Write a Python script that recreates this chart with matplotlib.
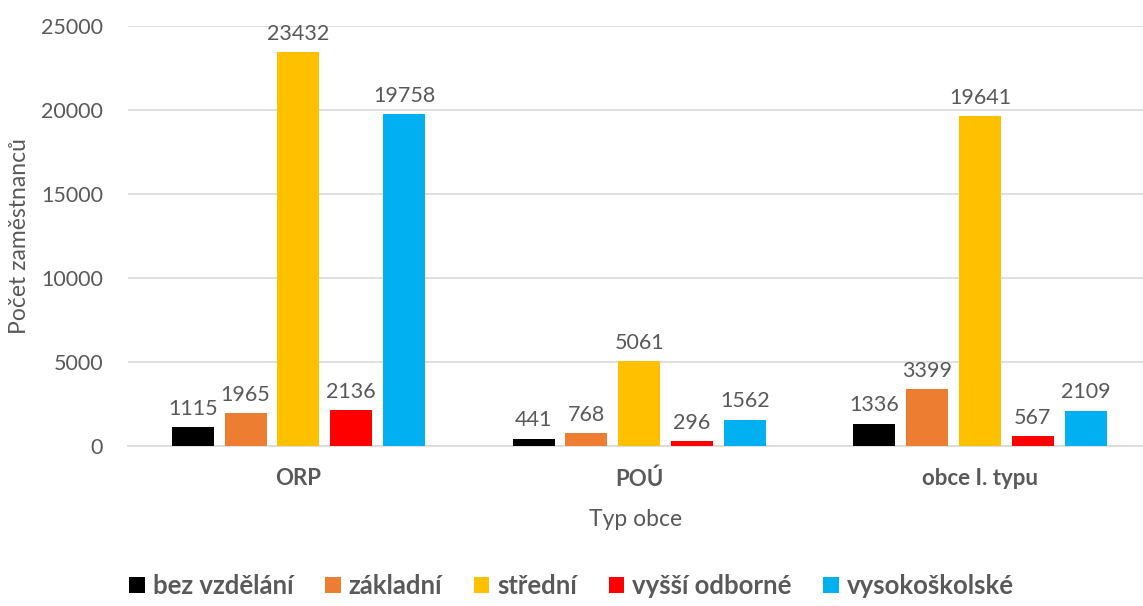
"""Počet zaměstnanců podle typu obce a vzdělání."""

import matplotlib

matplotlib.use("Agg")
import matplotlib.pyplot as plt
import numpy as np

categories = ["ORP", "POÚ", "obce I. typu"]
series_names = ["bez vzdělání", "základní", "střední", "vyšší odborné", "vysokoškolské"]
bez_vzdelani = [1115, 441, 1336]
zakladni = [1965, 768, 3399]
stredni = [23432, 5061, 19641]
vyssi_odborne = [2136, 296, 567]
vysokoskolske = [19758, 1562, 2109]
colors = ["#000000", "#ED7D31", "#FFC000", "#FF0000", "#00B0F0"]
y_ticks = [0, 5000, 10000, 15000, 20000, 25000]

plt.rcParams["font.family"] = ["Lato", "DejaVu Sans"]
text_color = "#595959"

fig = plt.figure(figsize=(11.43, 6.06), dpi=100)
ax = fig.add_axes([0.112, 0.264, 0.888, 0.693])

values = [bez_vzdelani, zakladni, stredni, vyssi_odborne, vysokoskolske]
x = np.arange(len(categories))
pitch = 0.155
width = 0.123
for i, (name, vals, color) in enumerate(zip(series_names, values, colors)):
    pos = x + (i - 2) * pitch
    bars = ax.bar(pos, vals, width=width, color=color, label=name, zorder=3)
    ax.bar_label(bars, labels=[str(v) for v in vals], padding=6,
                 fontsize=15.5, color=text_color)

ax.set_xlim(-0.5, 2.478)
ax.set_ylim(0, 25000)
ax.set_yticks(y_ticks)
ax.set_yticklabels([str(t) for t in y_ticks], fontsize=15.5, color=text_color)
ax.set_xticks(x)
ax.set_xticklabels(categories, fontsize=16, fontweight="bold", color=text_color)
ax.tick_params(axis="both", length=0)
ax.tick_params(axis="x", pad=16)
ax.tick_params(axis="y", pad=18)
ax.grid(axis="y", color="#D9D9D9", linewidth=1.2, zorder=0)
for side in ["top", "right", "left"]:
    ax.spines[side].set_visible(False)
ax.spines["bottom"].set_color("#D9D9D9")
ax.spines["bottom"].set_linewidth(1.2)

ax.set_xlabel("Typ obce", fontsize=16.5, color=text_color, labelpad=14)
ax.set_ylabel("Počet zaměstnanců", fontsize=16.5, color=text_color, labelpad=8)

leg = fig.legend(loc="center", bbox_to_anchor=(0.5, 0.033), ncol=5, frameon=False,
                 handlelength=0.6, handleheight=0.6, handletextpad=0.3,
                 columnspacing=1.25, prop={"size": 18.5, "weight": "bold"})
for t in leg.get_texts():
    t.set_color(text_color)

fig.savefig("out.png", dpi=100)
plt.close(fig)
